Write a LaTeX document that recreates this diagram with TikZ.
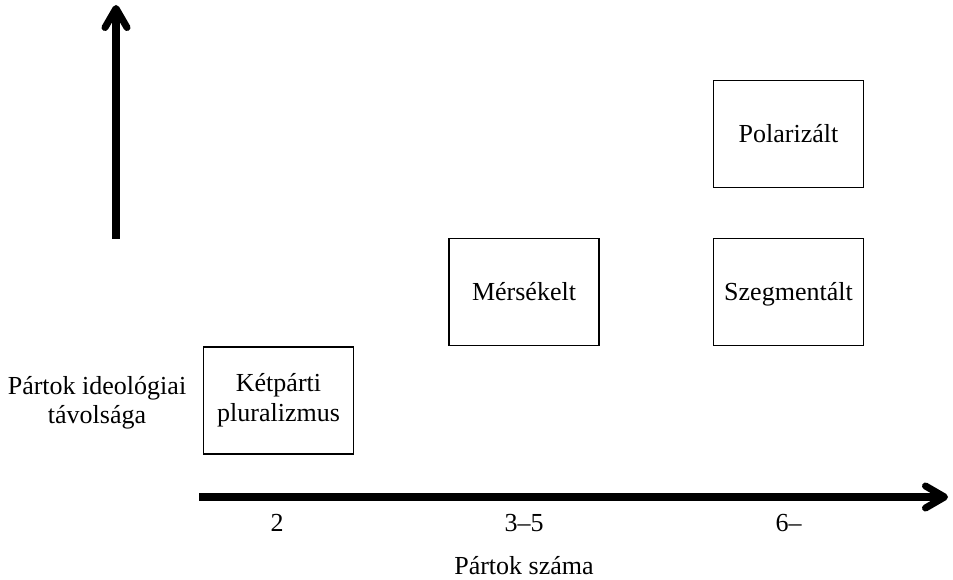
\documentclass[tikz,border=0pt]{standalone}
\usepackage{fontspec}
\setmainfont{Liberation Serif}
\usepackage{tikz}
\usetikzlibrary{arrows.meta,positioning}

\begin{document}
\begin{tikzpicture}[
  every node/.style={align=center,font=\fontsize{14.8}{17}\selectfont},
  box/.style={draw,line width=.75pt,minimum width=3cm,minimum height=2.14cm,inner sep=0pt},
  onebox/.style={box,text height=9.8pt,text depth=0pt},
  caption/.style={inner sep=0pt},
  axis/.style={line width=4pt,-{Straight Barb[length=.38cm,width=.44cm,round]}}]

    \useasboundingbox (0,0) rectangle (19.06,11.58);

    % boxes
    \node[box](ketparti) at (5.57,3.57){Kétpárti\\pluralizmus};
    \node[onebox](merseklet) at (10.48,5.74){Mérsékelt};
    \node[onebox](szegmentalt) at (15.77,5.74){Szegmentált};
    \node[onebox](polarizalt) at (15.77,8.90){Polarizált};

    % axes
    \coordinate (yfrom) at (2.32,6.80);
    \coordinate (yto) at (2.32,11.48);
    \coordinate (xfrom) at (3.98,1.64);
    \coordinate (xto) at (18.96,1.64);
    \draw[axis](yfrom) -- (yto);
    \draw[axis](xfrom) -- (xto);

    % labels
    \node[caption,yshift=-.035cm](ylabel) at (1.94,3.56){Pártok ideológiai\\távolsága};
    \node[caption,anchor=base](two) at (5.54,0.94){2};
    \node[caption,anchor=base](threefive) at (10.48,0.94){3–5};
    \node[caption,anchor=base](sixplus) at (15.77,0.94){6–};
    \node[caption,anchor=base](xlabel) at (10.48,0.08){Pártok száma};
\end{tikzpicture}
\end{document}
